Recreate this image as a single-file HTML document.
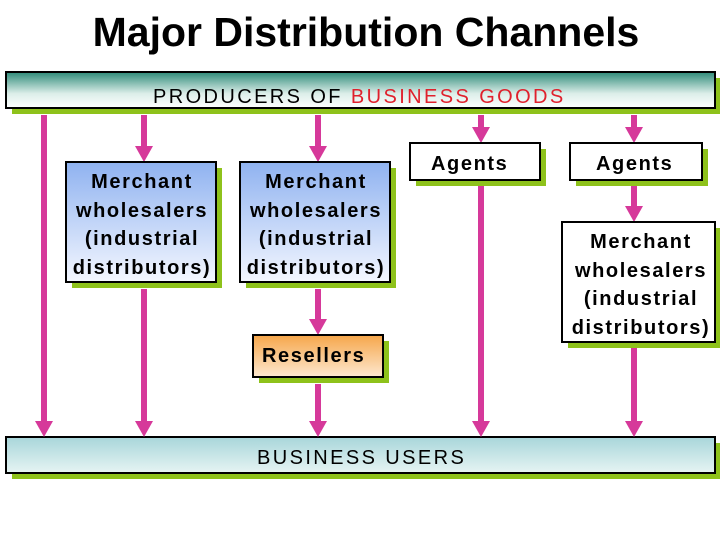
<!DOCTYPE html>
<html><head><meta charset="utf-8"><style>
html,body{margin:0;padding:0;background:#fff;width:720px;height:540px;overflow:hidden}
svg{display:block;font-family:"Liberation Sans",Arial,sans-serif}
</style></head><body>
<svg width="720" height="540" viewBox="0 0 720 540" xmlns="http://www.w3.org/2000/svg">
<defs>
<linearGradient id="top" x1="0" y1="0" x2="0" y2="1"><stop offset="0" stop-color="#2e8a78"/><stop offset="0.6" stop-color="#dceee9"/><stop offset="1" stop-color="#ffffff"/></linearGradient>
<linearGradient id="blue" x1="0" y1="0" x2="0" y2="1"><stop offset="0" stop-color="#8fb2f0"/><stop offset="1" stop-color="#f4f7ff"/></linearGradient>
<linearGradient id="org" x1="0" y1="0" x2="0" y2="1"><stop offset="0" stop-color="#f6a64a"/><stop offset="1" stop-color="#fde8d0"/></linearGradient>
<linearGradient id="bot" x1="0" y1="0" x2="0" y2="1"><stop offset="0" stop-color="#a8d6da"/><stop offset="1" stop-color="#e6f4f3"/></linearGradient>
</defs>
<text x="366" y="46" font-size="41" font-weight="bold" text-anchor="middle" fill="#000">Major Distribution Channels</text>
<!-- top bar -->
<rect x="12" y="78" width="709" height="36" fill="#8ec21b"/>
<rect x="6" y="72" width="709" height="36" fill="url(#top)" stroke="#000" stroke-width="2"/>
<text x="153" y="103" font-size="20" letter-spacing="2.4">PRODUCERS OF <tspan fill="#e0202c">BUSINESS GOODS</tspan></text>
<!-- bottom bar -->
<rect x="12" y="443" width="709" height="36" fill="#8ec21b"/>
<rect x="6" y="437" width="709" height="36" fill="url(#bot)" stroke="#000" stroke-width="2"/>
<text x="257" y="464" font-size="20" letter-spacing="2.4">BUSINESS USERS</text>
<!-- arrows -->
<g stroke="#d6399a" stroke-width="6" fill="none">
<line x1="44" y1="115" x2="44" y2="421"/>
<line x1="144" y1="115" x2="144" y2="146"/>
<line x1="318" y1="115" x2="318" y2="146"/>
<line x1="481" y1="115" x2="481" y2="128"/>
<line x1="634" y1="115" x2="634" y2="128"/>
<line x1="634" y1="186" x2="634" y2="206"/>
<line x1="481" y1="186" x2="481" y2="421"/>
<line x1="144" y1="289" x2="144" y2="421"/>
<line x1="318" y1="289" x2="318" y2="319"/>
<line x1="318" y1="384" x2="318" y2="421"/>
<line x1="634" y1="348" x2="634" y2="421"/>
</g>
<g fill="#d6399a">
<path d="M35 421h18l-9 16z"/><path d="M135 146h18l-9 16z"/><path d="M309 146h18l-9 16z"/>
<path d="M472 127h18l-9 16z"/><path d="M625 127h18l-9 16z"/><path d="M625 206h18l-9 16z"/>
<path d="M472 421h18l-9 16z"/><path d="M135 421h18l-9 16z"/><path d="M309 319h18l-9 16z"/>
<path d="M309 421h18l-9 16z"/><path d="M625 421h18l-9 16z"/>
</g>
<!-- boxes -->
<g font-size="20" font-weight="bold" text-anchor="middle" fill="#000" letter-spacing="1.6">
<rect x="72" y="168" width="150" height="120" fill="#8ec21b"/>
<rect x="66" y="162" width="150" height="120" fill="url(#blue)" stroke="#000" stroke-width="2"/>
<text x="142" y="188">Merchant</text><text x="142" y="217">wholesalers</text><text x="142" y="245">(industrial</text><text x="142" y="274">distributors)</text>
<rect x="246" y="168" width="150" height="120" fill="#8ec21b"/>
<rect x="240" y="162" width="150" height="120" fill="url(#blue)" stroke="#000" stroke-width="2"/>
<text x="316" y="188">Merchant</text><text x="316" y="217">wholesalers</text><text x="316" y="245">(industrial</text><text x="316" y="274">distributors)</text>
<rect x="416" y="149" width="130" height="37" fill="#8ec21b"/>
<rect x="410" y="143" width="130" height="37" fill="#fff" stroke="#000" stroke-width="2"/>
<text x="431" y="170" text-anchor="start">Agents</text>
<rect x="576" y="149" width="132" height="37" fill="#8ec21b"/>
<rect x="570" y="143" width="132" height="37" fill="#fff" stroke="#000" stroke-width="2"/>
<text x="596" y="170" text-anchor="start">Agents</text>
<rect x="568" y="228" width="152" height="120" fill="#8ec21b"/>
<rect x="562" y="222" width="153" height="120" fill="#fff" stroke="#000" stroke-width="2"/>
<text x="641" y="248">Merchant</text><text x="641" y="277">wholesalers</text><text x="641" y="305">(industrial</text><text x="641" y="334">distributors)</text>
<rect x="259" y="341" width="130" height="42" fill="#8ec21b"/>
<rect x="253" y="335" width="130" height="42" fill="url(#org)" stroke="#000" stroke-width="2"/>
<text x="262" y="362" text-anchor="start">Resellers</text>
</g>
</svg>
</body></html>
